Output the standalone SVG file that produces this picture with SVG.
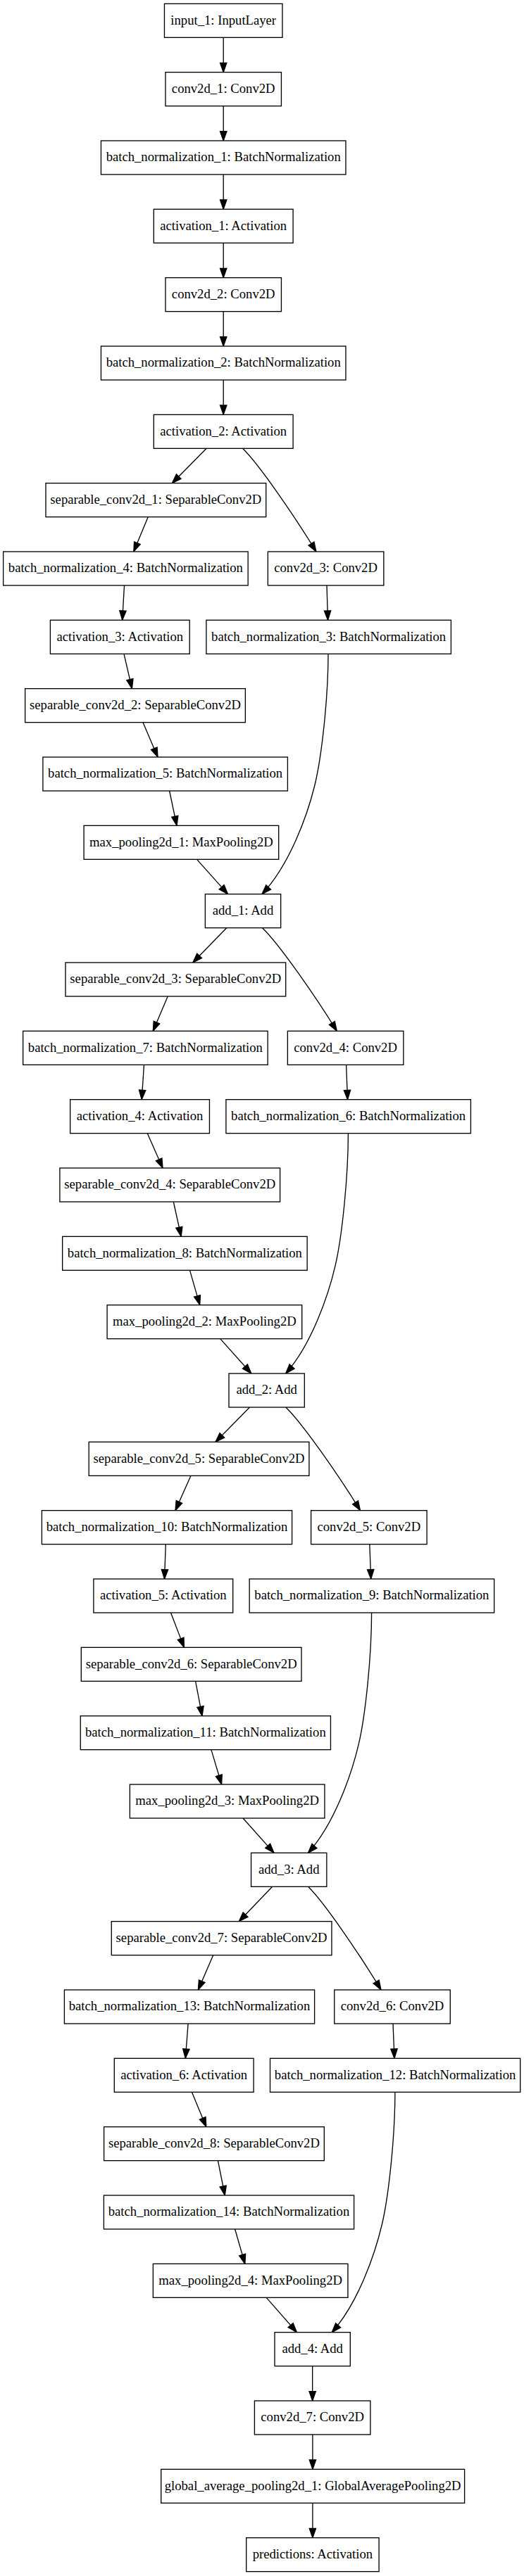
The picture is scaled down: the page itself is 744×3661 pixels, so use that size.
<svg xmlns="http://www.w3.org/2000/svg" width="744" height="3661" viewBox="0 0 744 3661">
<style>
.n rect{fill:#fff;stroke:#000;stroke-width:1.33}
.n text{font-family:"Liberation Serif","Times New Roman",serif;font-size:18.67px;fill:#000;text-anchor:middle}
.e path{fill:none;stroke:#000;stroke-width:1.33;marker-end:url(#ah)}
</style>
<defs>
<marker id="ah" markerUnits="userSpaceOnUse" markerWidth="18" markerHeight="14" refX="13.33" refY="4.67" orient="auto" style="overflow:visible">
<path d="M0,0 L13.33,4.67 L0,9.33 Z" fill="#000" stroke="#000" stroke-width="1.33"/>
</marker>
</defs>
<rect width="744" height="3661" fill="#fff"/>
<g id="connectors" class="e">
<path d="M317.2,53.33 L317.2,102.67"/>
<path d="M317.2,150.67 L317.2,200"/>
<path d="M317.2,248 L317.2,297.33"/>
<path d="M317.2,345.33 L317.2,394.67"/>
<path d="M317.2,442.67 L317.2,492"/>
<path d="M317.2,540 L317.2,589.33"/>
<path d="M293.2,637.33 L244.4,686.67"/>
<path d="M344.5,637.33 C368,660.03 420.5,736.93 448.9,784"/>
<path d="M210.2,734.67 L189.8,784"/>
<path d="M176.5,832 L173.7,881.33"/>
<path d="M464,832 L465.5,881.33"/>
<path d="M176,929.33 L187.4,978.67"/>
<path d="M466,929.33 C466,990.03 457,1075.03 446.7,1116.73 C436.2,1159.33 411,1229.33 372,1270.67"/>
<path d="M203,1026.67 L224,1076"/>
<path d="M240.6,1124 L251,1173.33"/>
<path d="M279.5,1221.33 L323.5,1270.67"/>
<path d="M321.7,1318.67 L273.8,1368"/>
<path d="M372.5,1318.67 C396.3,1341.37 449.5,1418.27 478.3,1465.33"/>
<path d="M238.2,1416 L217.3,1465.33"/>
<path d="M204.5,1513.33 L201.2,1562.67"/>
<path d="M491.6,1513.33 L493.5,1562.67"/>
<path d="M209.3,1610.67 L231,1660"/>
<path d="M494.4,1610.67 C494.4,1671.37 485.9,1756.37 476.2,1798.07 C466.3,1840.67 442.5,1910.67 405.7,1952"/>
<path d="M246.3,1708 L257.2,1757.33"/>
<path d="M269.5,1805.33 L283.7,1854.67"/>
<path d="M312.7,1902.67 L356.8,1952"/>
<path d="M354.5,2000 L306,2049.33"/>
<path d="M405.7,2000 C429.5,2022.7 482.7,2099.6 511.5,2146.67"/>
<path d="M271,2097.33 L249,2146.67"/>
<path d="M235.3,2194.67 L233.5,2244"/>
<path d="M524.8,2194.67 L526.7,2244"/>
<path d="M242.5,2292 L261.4,2341.33"/>
<path d="M527.6,2292 C527.6,2352.7 519,2437.7 509.1,2479.4 C499,2522 474.9,2592 437.5,2633.33"/>
<path d="M277.6,2389.33 L287,2438.67"/>
<path d="M299.9,2486.67 L314.6,2536"/>
<path d="M345,2584 L389,2633.33"/>
<path d="M386.7,2681.33 L339.3,2730.67"/>
<path d="M437.5,2681.33 C460.8,2704.03 512.8,2780.93 541,2828"/>
<path d="M302.7,2778.67 L281.4,2828"/>
<path d="M267.1,2876 L263.3,2925.33"/>
<path d="M558,2876 L560,2925.33"/>
<path d="M272.4,2973.33 L292.8,3022.67"/>
<path d="M560.9,2973.33 C560.9,3034.03 552.3,3119.03 542.5,3160.73 C532.5,3203.33 508.4,3273.33 471.2,3314.67"/>
<path d="M309.4,3070.67 L319.3,3120"/>
<path d="M333.6,3168 L347.8,3217.33"/>
<path d="M378.2,3265.33 L421.4,3314.67"/>
<path d="M443.65,3362.67 L443.65,3412"/>
<path d="M443.9,3460 L443.9,3509.33"/>
<path d="M443.9,3557.33 L443.9,3606.67"/>
</g>
<g id="input_1" class="n"><rect x="233.45" y="5.33" width="167.5" height="48"/><text x="317.2" y="34.63">input_1: InputLayer</text></g>
<g id="conv2d_1" class="n"><rect x="234.95" y="102.67" width="164.5" height="48"/><text x="317.2" y="131.97">conv2d_1: Conv2D</text></g>
<g id="batch_normalization_1" class="n"><rect x="143.45" y="200" width="347.5" height="48"/><text x="317.2" y="229.3">batch_normalization_1: BatchNormalization</text></g>
<g id="activation_1" class="n"><rect x="218.3" y="297.33" width="197.8" height="48"/><text x="317.2" y="326.63">activation_1: Activation</text></g>
<g id="conv2d_2" class="n"><rect x="234.95" y="394.67" width="164.5" height="48"/><text x="317.2" y="423.97">conv2d_2: Conv2D</text></g>
<g id="batch_normalization_2" class="n"><rect x="143.45" y="492" width="347.5" height="48"/><text x="317.2" y="521.3">batch_normalization_2: BatchNormalization</text></g>
<g id="activation_2" class="n"><rect x="218.3" y="589.33" width="197.8" height="48"/><text x="317.2" y="618.63">activation_2: Activation</text></g>
<g id="separable_conv2d_1" class="n"><rect x="65" y="686.67" width="312.7" height="48"/><text x="221.35" y="715.97">separable_conv2d_1: SeparableConv2D</text></g>
<g id="batch_normalization_4" class="n"><rect x="4.65" y="784" width="347.5" height="48"/><text x="178.4" y="813.3">batch_normalization_4: BatchNormalization</text></g>
<g id="conv2d_3" class="n"><rect x="380.35" y="784" width="164.5" height="48"/><text x="462.6" y="813.3">conv2d_3: Conv2D</text></g>
<g id="activation_3" class="n"><rect x="71.4" y="881.33" width="197.8" height="48"/><text x="170.3" y="910.63">activation_3: Activation</text></g>
<g id="batch_normalization_3" class="n"><rect x="292.9" y="881.33" width="347.5" height="48"/><text x="466.65" y="910.63">batch_normalization_3: BatchNormalization</text></g>
<g id="separable_conv2d_2" class="n"><rect x="35.65" y="978.67" width="312.7" height="48"/><text x="192" y="1007.97">separable_conv2d_2: SeparableConv2D</text></g>
<g id="batch_normalization_5" class="n"><rect x="60.9" y="1076" width="347.5" height="48"/><text x="234.65" y="1105.3">batch_normalization_5: BatchNormalization</text></g>
<g id="max_pooling2d_1" class="n"><rect x="119.1" y="1173.33" width="276.6" height="48"/><text x="257.4" y="1202.63">max_pooling2d_1: MaxPooling2D</text></g>
<g id="add_1" class="n"><rect x="291.35" y="1270.67" width="107.3" height="48"/><text x="345" y="1299.97">add_1: Add</text></g>
<g id="separable_conv2d_3" class="n"><rect x="93" y="1368" width="312.7" height="48"/><text x="249.35" y="1397.3">separable_conv2d_3: SeparableConv2D</text></g>
<g id="batch_normalization_7" class="n"><rect x="32.65" y="1465.33" width="347.5" height="48"/><text x="206.4" y="1494.63">batch_normalization_7: BatchNormalization</text></g>
<g id="conv2d_4" class="n"><rect x="408.35" y="1465.33" width="164.5" height="48"/><text x="490.6" y="1494.63">conv2d_4: Conv2D</text></g>
<g id="activation_4" class="n"><rect x="99.65" y="1562.67" width="197.8" height="48"/><text x="198.55" y="1591.97">activation_4: Activation</text></g>
<g id="batch_normalization_6" class="n"><rect x="320.9" y="1562.67" width="347.5" height="48"/><text x="494.65" y="1591.97">batch_normalization_6: BatchNormalization</text></g>
<g id="separable_conv2d_4" class="n"><rect x="84.9" y="1660" width="312.7" height="48"/><text x="241.25" y="1689.3">separable_conv2d_4: SeparableConv2D</text></g>
<g id="batch_normalization_8" class="n"><rect x="88.65" y="1757.33" width="347.5" height="48"/><text x="262.4" y="1786.63">batch_normalization_8: BatchNormalization</text></g>
<g id="max_pooling2d_2" class="n"><rect x="152.1" y="1854.67" width="276.6" height="48"/><text x="290.4" y="1883.97">max_pooling2d_2: MaxPooling2D</text></g>
<g id="add_2" class="n"><rect x="325" y="1952" width="107.3" height="48"/><text x="378.65" y="1981.3">add_2: Add</text></g>
<g id="separable_conv2d_5" class="n"><rect x="126.2" y="2049.33" width="312.7" height="48"/><text x="282.55" y="2078.63">separable_conv2d_5: SeparableConv2D</text></g>
<g id="batch_normalization_10" class="n"><rect x="59.4" y="2146.67" width="355.2" height="48"/><text x="237" y="2175.97">batch_normalization_10: BatchNormalization</text></g>
<g id="conv2d_5" class="n"><rect x="441.6" y="2146.67" width="164.5" height="48"/><text x="523.85" y="2175.97">conv2d_5: Conv2D</text></g>
<g id="activation_5" class="n"><rect x="132.9" y="2244" width="197.8" height="48"/><text x="231.8" y="2273.3">activation_5: Activation</text></g>
<g id="batch_normalization_9" class="n"><rect x="354.15" y="2244" width="347.5" height="48"/><text x="527.9" y="2273.3">batch_normalization_9: BatchNormalization</text></g>
<g id="separable_conv2d_6" class="n"><rect x="115.3" y="2341.33" width="312.7" height="48"/><text x="271.65" y="2370.63">separable_conv2d_6: SeparableConv2D</text></g>
<g id="batch_normalization_11" class="n"><rect x="114.25" y="2438.67" width="355.2" height="48"/><text x="291.85" y="2467.97">batch_normalization_11: BatchNormalization</text></g>
<g id="max_pooling2d_3" class="n"><rect x="184.35" y="2536" width="276.6" height="48"/><text x="322.65" y="2565.3">max_pooling2d_3: MaxPooling2D</text></g>
<g id="add_3" class="n"><rect x="356.55" y="2633.33" width="107.3" height="48"/><text x="410.2" y="2662.63">add_3: Add</text></g>
<g id="separable_conv2d_7" class="n"><rect x="158.25" y="2730.67" width="312.7" height="48"/><text x="314.6" y="2759.97">separable_conv2d_7: SeparableConv2D</text></g>
<g id="batch_normalization_13" class="n"><rect x="91.4" y="2828" width="355.2" height="48"/><text x="269" y="2857.3">batch_normalization_13: BatchNormalization</text></g>
<g id="conv2d_6" class="n"><rect x="474.75" y="2828" width="164.5" height="48"/><text x="557" y="2857.3">conv2d_6: Conv2D</text></g>
<g id="activation_6" class="n"><rect x="162.3" y="2925.33" width="197.8" height="48"/><text x="261.2" y="2954.63">activation_6: Activation</text></g>
<g id="batch_normalization_12" class="n"><rect x="383.5" y="2925.33" width="355.2" height="48"/><text x="561.1" y="2954.63">batch_normalization_12: BatchNormalization</text></g>
<g id="separable_conv2d_8" class="n"><rect x="147.6" y="3022.67" width="312.7" height="48"/><text x="303.95" y="3051.97">separable_conv2d_8: SeparableConv2D</text></g>
<g id="batch_normalization_14" class="n"><rect x="147.4" y="3120" width="355.2" height="48"/><text x="325" y="3149.3">batch_normalization_14: BatchNormalization</text></g>
<g id="max_pooling2d_4" class="n"><rect x="217.35" y="3217.33" width="276.6" height="48"/><text x="355.65" y="3246.63">max_pooling2d_4: MaxPooling2D</text></g>
<g id="add_4" class="n"><rect x="390" y="3314.67" width="107.3" height="48"/><text x="443.65" y="3343.97">add_4: Add</text></g>
<g id="conv2d_7" class="n"><rect x="361.4" y="3412" width="164.5" height="48"/><text x="443.65" y="3441.3">conv2d_7: Conv2D</text></g>
<g id="global_average_pooling2d_1" class="n"><rect x="228.7" y="3509.33" width="430.9" height="48"/><text x="444.15" y="3538.63">global_average_pooling2d_1: GlobalAveragePooling2D</text></g>
<g id="predictions" class="n"><rect x="349.7" y="3606.67" width="188.4" height="48"/><text x="443.9" y="3635.97">predictions: Activation</text></g>
</svg>
